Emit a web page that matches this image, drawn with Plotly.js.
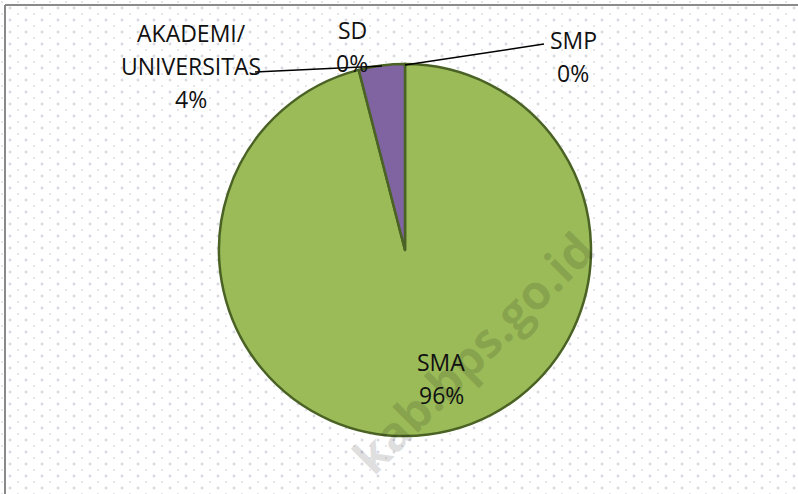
<!DOCTYPE html>
<html>
<head>
<meta charset="utf-8">
<script src="https://cdn.plot.ly/plotly-3.0.1.min.js"></script>
<style>
  html, body { margin: 0; padding: 0; background: #ffffff; }
  #wrap {
    position: relative; width: 798px; height: 494px; overflow: hidden;
    background-color: #ffffff;
    background-image:
      radial-gradient(circle, #d9d9e2 1.1px, rgba(255,255,255,0) 1.8px),
      radial-gradient(circle, #e6e6ec 0.9px, rgba(255,255,255,0) 1.5px);
    background-size: 16px 12px, 16px 12px;
    background-position: 2px 2px, 10px 8px;
  }
  #chart { position: absolute; left: 0; top: 0; width: 798px; height: 494px; }
</style>
</head>
<body>
<div id="wrap"><div id="chart"></div></div>
<script>
// ---- data ----
var categories = ['SD', 'SMP', 'SMA', 'AKADEMI/UNIVERSITAS'];
var values = [0, 0, 96, 4];
var sliceColors = ['#4F81BD', '#C0504D', '#9BBB59', '#8064A2'];
var watermarkText = 'kab.bps.go.id';

// ---- label placement (pixel positions, style only) ----
var W = 798, H = 494;
var labelPos = {
  'SD': [352, 30],
  'SMP': [573, 40],
  'SMA': [441, 362],
  'AKADEMI/UNIVERSITAS': [191, 33]
};
var lineGap = 33;

function px(x) { return x / W; }
function py(y) { return 1 - y / H; }

var total = values.reduce(function (a, b) { return a + b; }, 0);

var annotations = [];
categories.forEach(function (cat, i) {
  var lines = cat.replace('/', '/\n').split('\n');
  lines.push(Math.round(values[i] / total * 100) + '%');
  var p = labelPos[cat];
  lines.forEach(function (t, k) {
    annotations.push({
      xref: 'paper', yref: 'paper',
      x: px(p[0]), y: py(p[1] + k * lineGap),
      text: t, showarrow: false,
      xanchor: 'center', yanchor: 'middle',
      font: { family: 'Open Sans, sans-serif', size: 23, color: '#111111' }
    });
  });
});

annotations.push({
  xref: 'paper', yref: 'paper', x: px(472), y: py(352),
  text: '<b>' + watermarkText + '</b>', showarrow: false, textangle: -45,
  xanchor: 'center', yanchor: 'middle',
  font: { family: 'Open Sans, sans-serif', size: 48, color: 'rgba(0,0,0,0.12)' }
});

var cx = 405, cy = 250, r = 186;

var trace = {
  type: 'pie',
  labels: categories,
  values: values,
  sort: false,
  direction: 'clockwise',
  rotation: 0,
  textinfo: 'none',
  hoverinfo: 'label+percent',
  showlegend: false,
  marker: { colors: sliceColors, line: { color: '#4a6224', width: 2.5 } },
  domain: { x: [px(cx - r), px(cx + r)], y: [1 - (cy + r) / H, 1 - (cy - r) / H] }
};

var layout = {
  width: W, height: H,
  margin: { l: 0, r: 0, t: 0, b: 0 },
  paper_bgcolor: 'rgba(0,0,0,0)',
  plot_bgcolor: 'rgba(0,0,0,0)',
  showlegend: false,
  annotations: annotations,
  shapes: [
    { type: 'line', xref: 'paper', yref: 'paper', x0: px(5), y0: py(5), x1: 1, y1: py(5), line: { color: '#8a8a8a', width: 2 } },
    { type: 'line', xref: 'paper', yref: 'paper', x0: px(5), y0: py(5), x1: px(5), y1: 0, line: { color: '#8a8a8a', width: 2 } },
    { type: 'line', xref: 'paper', yref: 'paper', x0: px(255), y0: py(72), x1: px(382), y1: py(66), line: { color: '#000000', width: 1.5 } },
    { type: 'line', xref: 'paper', yref: 'paper', x0: px(405), y0: py(65), x1: px(544), y1: py(44), line: { color: '#000000', width: 1.5 } }
  ]
};

Plotly.newPlot('chart', [trace], layout, { staticPlot: true, displayModeBar: false });
</script>
</body>
</html>
